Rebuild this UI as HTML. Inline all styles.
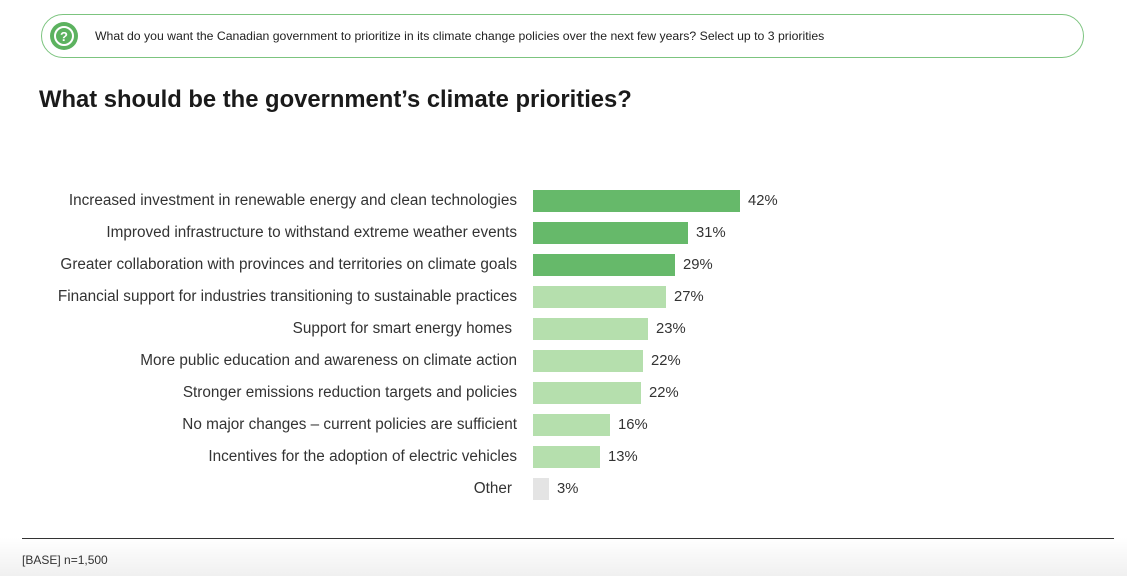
<!DOCTYPE html>
<html><head><meta charset="utf-8"><style>
body{margin:0;width:1127px;height:576px;position:relative;background:#fff;font-family:"Liberation Sans",sans-serif;overflow:hidden;color:#222}
.q{position:absolute;left:41px;top:14px;width:1043px;height:44px;border:1.5px solid #7cc47f;border-radius:22px;box-sizing:border-box}
.ic{position:absolute;left:50px;top:22px;width:28px;height:28px;border-radius:50%;background:#5cb25f}
.qt{position:absolute;left:95px;top:29px;font-size:12.25px;color:#222}
h1{position:absolute;left:39px;top:86px;margin:0;font-size:23.8px;font-weight:bold;color:#1a1a1a}
.l{position:absolute;right:610px;font-size:15.3px;color:#333;white-space:nowrap;margin-top:1px}
.b{position:absolute;left:533px;height:22px}
.v{position:absolute;font-size:14.8px;color:#333;margin-top:1px}
.foot{position:absolute;left:0;top:538px;width:1127px;height:38px;background:linear-gradient(#fff,#f0f0f0)}
.line{position:absolute;left:22px;top:538px;width:1092px;height:1px;background:#333}
.fb{position:absolute;left:22px;top:553px;font-size:12px;color:#333}
</style></head><body>
<div class="q"></div>
<div class="ic"><svg width="28" height="28"><circle cx="14" cy="14" r="9" fill="none" stroke="#fff" stroke-width="2"/><text x="14" y="19" text-anchor="middle" font-size="13" font-weight="bold" fill="#fff" font-family="Liberation Sans">?</text></svg></div>
<div class="qt">What do you want the Canadian government to prioritize in its climate change policies over the next few years? Select up to 3 priorities</div>
<h1>What should be the government’s climate priorities?</h1>

<div class="l" style="top:191px">Increased investment in renewable energy and clean technologies</div>
<div class="b" style="top:190px;width:207px;background:#66b96a"></div><div class="v" style="left:748px;top:192px">42%</div>

<div class="l" style="top:223px">Improved infrastructure to withstand extreme weather events</div>
<div class="b" style="top:222px;width:155px;background:#66b96a"></div><div class="v" style="left:696px;top:224px">31%</div>

<div class="l" style="top:255px">Greater collaboration with provinces and territories on climate goals</div>
<div class="b" style="top:254px;width:142px;background:#66b96a"></div><div class="v" style="left:683px;top:256px">29%</div>

<div class="l" style="top:287px">Financial support for industries transitioning to sustainable practices</div>
<div class="b" style="top:286px;width:133px;background:#b5dfad"></div><div class="v" style="left:674px;top:288px">27%</div>

<div class="l" style="top:319px;right:615px">Support for smart energy homes</div>
<div class="b" style="top:318px;width:115px;background:#b5dfad"></div><div class="v" style="left:656px;top:320px">23%</div>

<div class="l" style="top:351px">More public education and awareness on climate action</div>
<div class="b" style="top:350px;width:110px;background:#b5dfad"></div><div class="v" style="left:651px;top:352px">22%</div>

<div class="l" style="top:383px">Stronger emissions reduction targets and policies</div>
<div class="b" style="top:382px;width:108px;background:#b5dfad"></div><div class="v" style="left:649px;top:384px">22%</div>

<div class="l" style="top:415px">No major changes – current policies are sufficient</div>
<div class="b" style="top:414px;width:77px;background:#b5dfad"></div><div class="v" style="left:618px;top:416px">16%</div>

<div class="l" style="top:447px">Incentives for the adoption of electric vehicles</div>
<div class="b" style="top:446px;width:67px;background:#b5dfad"></div><div class="v" style="left:608px;top:448px">13%</div>

<div class="l" style="top:479px;right:615px">Other</div>
<div class="b" style="top:478px;width:16px;background:#e4e4e4"></div><div class="v" style="left:557px;top:480px">3%</div>

<div class="foot"></div>
<div class="line"></div>
<div class="fb">[BASE] n=1,500</div>
</body></html>
